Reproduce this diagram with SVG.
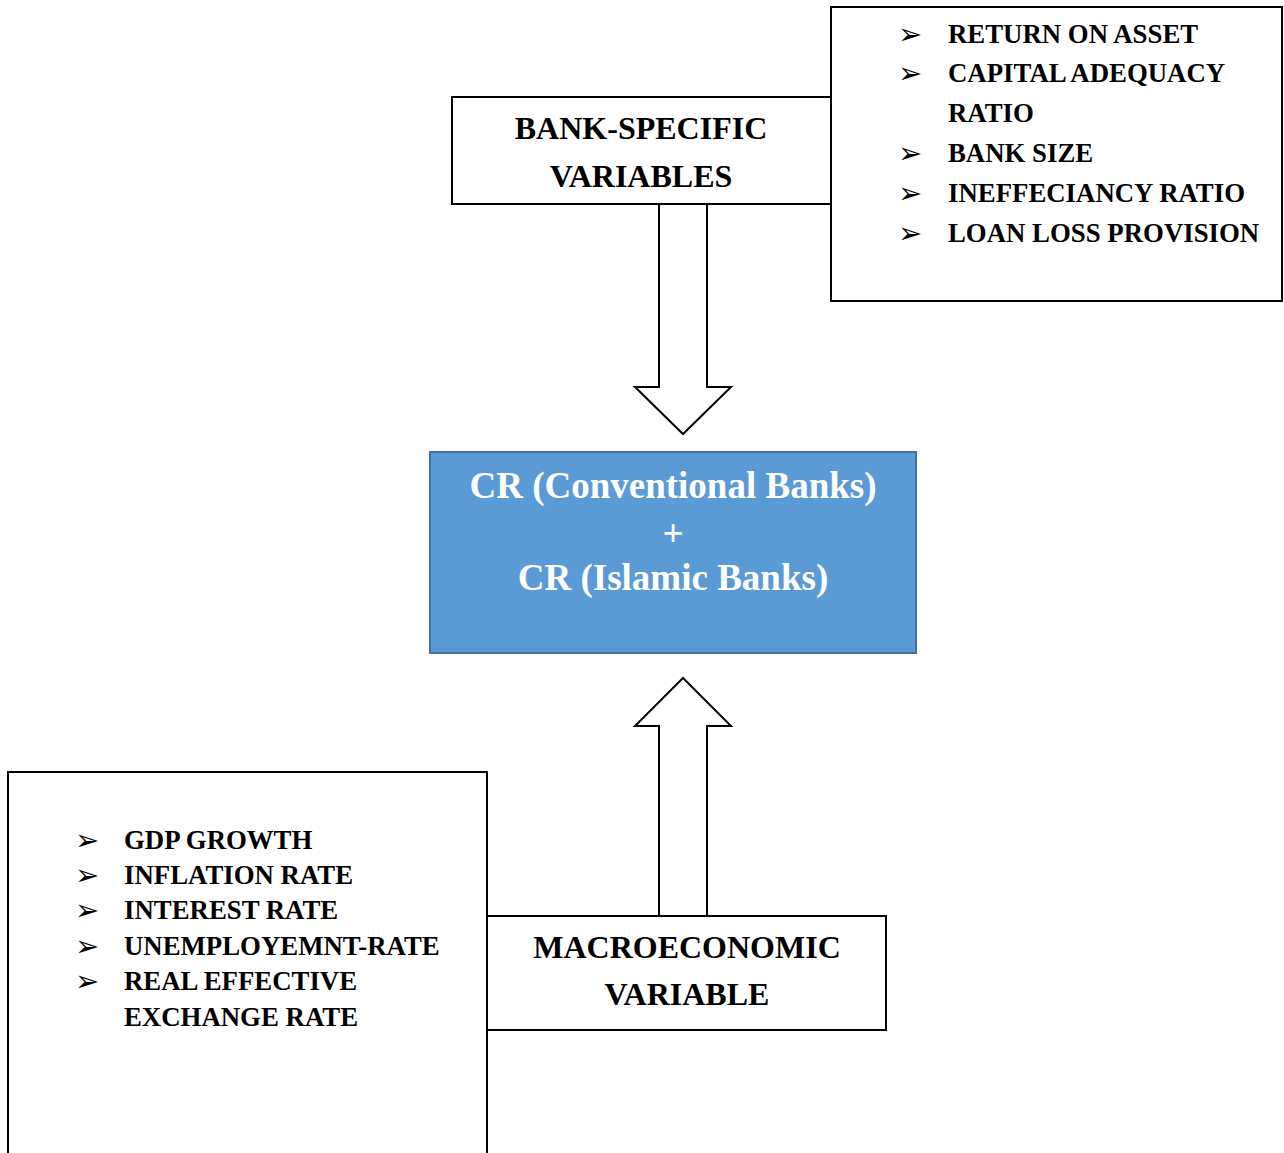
<svg xmlns="http://www.w3.org/2000/svg" width="1284" height="1153" viewBox="0 0 1284 1153">
<style>
.box{fill:#fff;stroke:#000;stroke-width:2}
.arrow{fill:#fff;stroke:#000;stroke-width:2;stroke-linejoin:miter}
.t{font-family:"Liberation Serif","Times New Roman",serif;font-weight:bold;fill:#000}
.h{font-size:32px;text-anchor:middle}
.li{font-size:26.8px}
.b{font-family:"DejaVu Sans",sans-serif;font-size:29px;fill:#000}
.c{font-family:"Liberation Serif","Times New Roman",serif;font-weight:bold;fill:#fff;font-size:37px;text-anchor:middle}
</style>
<rect width="1284" height="1153" fill="#fff"/>
<g id="connectors">
<path class="arrow" d="M659,204 L707,204 L707,387 L731,387 L683,434 L635,387 L659,387 Z"/>
<path class="arrow" d="M659,916 L707,916 L707,726 L731,726 L683,678 L635,726 L659,726 Z"/>
</g>
<g id="bank-list">
<rect class="box" x="831" y="7" width="451" height="294"/>
<text class="b" x="898" y="44">➢</text>
<text class="b" x="898" y="83">➢</text>
<text class="b" x="898" y="163">➢</text>
<text class="b" x="898" y="203">➢</text>
<text class="b" x="898" y="243">➢</text>
<text class="t li" x="948" y="43">RETURN ON ASSET</text>
<text class="t li" x="948" y="82">CAPITAL ADEQUACY</text>
<text class="t li" x="948" y="122">RATIO</text>
<text class="t li" x="948" y="162">BANK SIZE</text>
<text class="t li" x="948" y="202">INEFFECIANCY RATIO</text>
<text class="t li" x="948" y="242">LOAN LOSS PROVISION</text>
</g>
<g id="bank-specific">
<rect class="box" x="452" y="97" width="379" height="107"/>
<text class="t h" x="641" y="139">BANK-SPECIFIC</text>
<text class="t h" x="641" y="187">VARIABLES</text>
</g>
<g id="cr">
<rect x="430" y="452" width="486" height="201" fill="#5B9BD5" stroke="#41719C" stroke-width="2"/>
<text class="c" x="673" y="498">CR (Conventional Banks)</text>
<text class="c" x="673" y="546">+</text>
<text class="c" x="673" y="590">CR (Islamic Banks)</text>
</g>
<g id="macro-list">
<rect class="box" x="8" y="772" width="479" height="390"/>
<text class="b" x="75" y="850">➢</text>
<text class="b" x="75" y="885">➢</text>
<text class="b" x="75" y="920">➢</text>
<text class="b" x="75" y="956">➢</text>
<text class="b" x="75" y="991">➢</text>
<text class="t li" x="124" y="849">GDP GROWTH</text>
<text class="t li" x="124" y="884">INFLATION RATE</text>
<text class="t li" x="124" y="919">INTEREST RATE</text>
<text class="t li" x="124" y="955">UNEMPLOYEMNT-RATE</text>
<text class="t li" x="124" y="990">REAL EFFECTIVE</text>
<text class="t li" x="124" y="1026">EXCHANGE RATE</text>
</g>
<g id="macroeconomic">
<rect class="box" x="487" y="916" width="399" height="114"/>
<text class="t h" x="687" y="958">MACROECONOMIC</text>
<text class="t h" x="687" y="1005">VARIABLE</text>
</g>
</svg>
